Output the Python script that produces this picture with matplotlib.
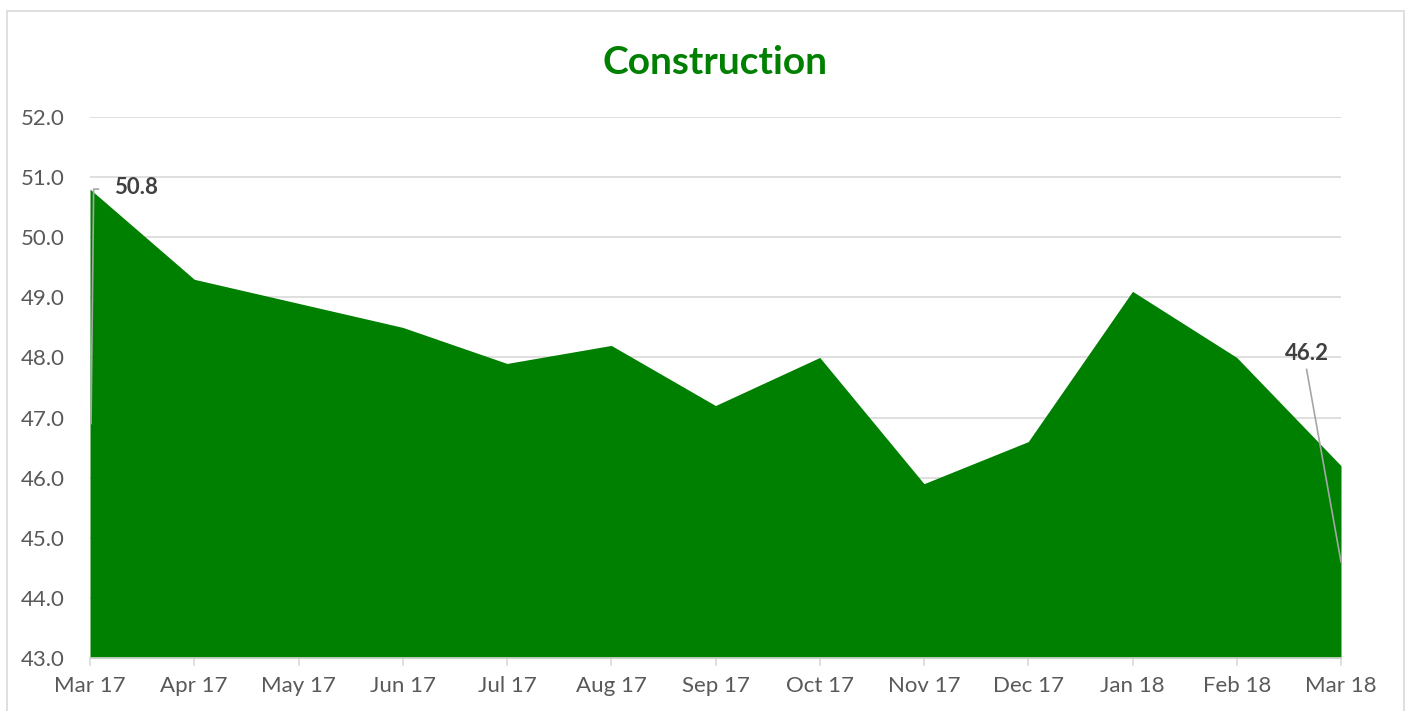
import matplotlib
matplotlib.use("Agg")
from matplotlib import pyplot as plt
from matplotlib.patches import Rectangle

months = ["Mar 17", "Apr 17", "May 17", "Jun 17", "Jul 17", "Aug 17", "Sep 17",
          "Oct 17", "Nov 17", "Dec 17", "Jan 18", "Feb 18", "Mar 18"]
values = [50.8, 49.3, 48.9, 48.5, 47.9, 48.2, 47.2, 48.0, 45.9, 46.6, 49.1, 48.0, 46.2]
yticks = [43, 44, 45, 46, 47, 48, 49, 50, 51, 52]

green = "#008000"
grey_txt = "#595959"
grid_c = "#d9d9d9"

plt.rcParams['font.family'] = ['Lato', 'DejaVu Sans']

fig = plt.figure(figsize=(14.06, 7.11), dpi=100)
ax = fig.add_axes([90/1406, 1-658/711, (1341-90)/1406, (658-117)/711])

x = list(range(len(months)))
ax.fill_between(x, 43, values, color=green, lw=0, zorder=2)

ax.set_xlim(0, len(months)-1)
ax.set_ylim(43, 52)
ax.set_yticks(yticks)
ax.set_yticklabels(["%.1f" % v for v in yticks])
ax.set_xticks(x)
ax.set_xticklabels(months)
ax.yaxis.grid(True, color=grid_c, lw=1.2, zorder=0)
ax.set_axisbelow(True)
for s in ["top", "right", "left"]:
    ax.spines[s].set_visible(False)
ax.spines["bottom"].set_color(grid_c)
ax.spines["bottom"].set_linewidth(1.2)
ax.spines["bottom"].set_zorder(3)
ax.tick_params(axis="y", length=0, labelsize=16, labelcolor=grey_txt, pad=18)
ax.tick_params(axis="x", length=6, color=grid_c, width=1.2, labelsize=16, labelcolor=grey_txt, pad=7)

ax.set_title("Construction", fontsize=28, fontweight="bold", color=green, pad=31)

# data labels with leader lines (Excel style)
ax.annotate("%.1f" % values[0], xy=(0, values[0]), xytext=(17, 1),
            textcoords="offset points", fontsize=16, fontweight="bold",
            color="#404040", ha="left", va="center", zorder=5)
ax.plot([0.01, 0.035, 0.08], [46.9, 50.8, 50.8], color="#a6a6a6", lw=1.2, zorder=4,
        clip_on=False)
ax.annotate("%.1f" % values[-1], xy=(12, values[-1]), xytext=(-24.5, 81),
            textcoords="offset points", fontsize=16, fontweight="bold",
            color="#404040", ha="center", va="center", zorder=5)
ax.plot([11.67, 12.0], [47.8, 44.6], color="#a6a6a6", lw=1.2, zorder=4, clip_on=False)

fig.patches.append(Rectangle((7/1406, -0.01), (1404-7)/1406, 1.01-11/711,
                             transform=fig.transFigure, fill=False,
                             edgecolor="#d9d9d9", lw=1.2))

fig.savefig("out.png", dpi=100)
